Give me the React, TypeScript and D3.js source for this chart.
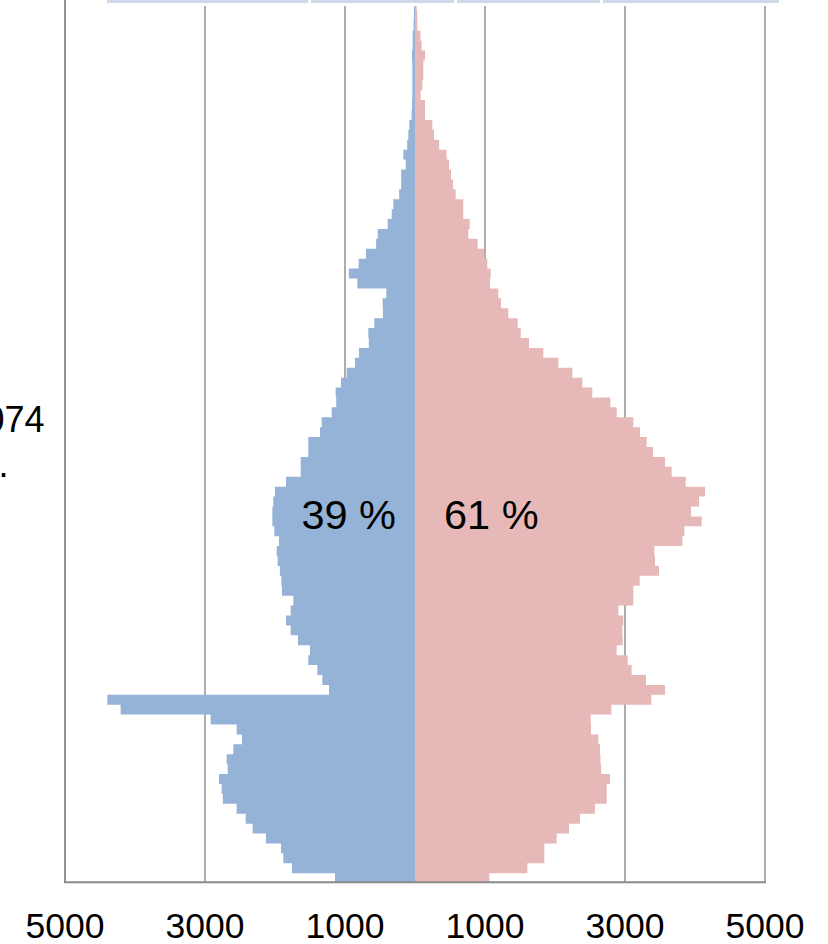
import React from "react";
import * as d3 from "d3";

// Age categories (0 = youngest, bottom of pyramid)
const ages = [
  0, 1, 2, 3, 4, 5, 6, 7, 8, 9, 10, 11, 12, 13, 14, 15, 16, 17, 18, 19, 20, 21, 22, 23, 24, 25, 26, 27, 28, 29,
  30, 31, 32, 33, 34, 35, 36, 37, 38, 39, 40, 41, 42, 43, 44, 45, 46, 47, 48, 49, 50, 51, 52, 53, 54, 55, 56, 57, 58, 59,
  60, 61, 62, 63, 64, 65, 66, 67, 68, 69, 70, 71, 72, 73, 74, 75, 76, 77, 78, 79, 80, 81, 82, 83, 84, 85, 86, 87, 88,
];

// Men (left, blue)
const men = [
  1143, 1757, 1881, 1914, 2129, 2319, 2419, 2548, 2745, 2762,
  2800, 2676, 2690, 2595, 2471, 2548, 2919, 4205, 4395, 1229,
  1324, 1395, 1524, 1500, 1671, 1776, 1843, 1776, 1738, 1900,
  1910, 1930, 1962, 1976, 1943, 2010, 2038, 2038, 2024, 2000,
  1843, 1633, 1633, 1524, 1524, 1357, 1333, 1190, 1125, 1133,
  1057, 976, 857, 800, 660, 667, 581, 458, 462, 410,
  824, 945, 805, 700, 555, 533, 390, 333, 310, 226,
  197, 197, 133, 167, 112, 95, 81, 48, 43, 38,
  38, 38, 38, 43, 33, 33, 20, 15, 15,
];

// Women (right, pink)
const women = [
  1062, 1605, 1848, 1848, 2024, 2200, 2357, 2571, 2738, 2738,
  2786, 2660, 2650, 2643, 2619, 2514, 2510, 2805, 3376, 3571,
  3300, 3095, 3038, 2881, 2967, 2962, 2976, 2905, 3119, 3119,
  3210, 3486, 3429, 3419, 3819, 3848, 4095, 3943, 4057, 4143,
  3867, 3667, 3571, 3400, 3310, 3214, 3119, 2881, 2790, 2533,
  2390, 2248, 2048, 1833, 1629, 1510, 1467, 1333, 1229, 1190,
  1071, 1081, 1033, 990, 895, 762, 781, 690, 690, 581,
  545, 514, 486, 452, 345, 271, 248, 143, 143, 81,
  105, 119, 119, 143, 95, 78, 33, 33, 24,
];

const tickValues = [-5000, -3000, -1000, 1000, 3000, 5000];
const shareLabels = ["39 %", "61 %"];
const sideLabels = ["41 074", "pers."];

const W = 828;
const H = 944;
const FONT = "'Liberation Sans', Arial, Helvetica, sans-serif";
const BLUE = "#95b3d7";
const PINK = "#e6b8b7";
const GRID = "#8a8a8a";

export default function App() {
  const x = d3.scaleLinear().domain([-5000, 5000]).range([65, 765]);
  const y = d3.scaleBand<number>().domain(ages).range([883.1, 1.0]).padding(0);
  const bw = y.bandwidth();

  // one path per side, made of one rectangle per age band (avoids seams)
  const barsPath = (vals: number[], sign: number) => {
    const p = d3.path();
    ages.forEach((a, i) => {
      const x0 = x(0);
      const x1 = x(sign * vals[i]);
      const top = y(a)!;
      p.rect(Math.min(x0, x1), top, Math.abs(x1 - x0), bw);
    });
    return p.toString();
  };

  const legendSegs: [number, number][] = [
    [107, 308],
    [311, 454],
    [457, 600],
    [603, 779],
  ];

  return (
    <svg
      width={W}
      height={H}
      viewBox={`0 0 ${W} ${H}`}
      style={{ position: "absolute", left: 0, top: 0, background: "#fff" }}
    >
      <rect x={0} y={0} width={W} height={H} fill="#fff" />
      {/* gridlines */}
      {tickValues.map((v) => (
        <line
          key={"g" + v}
          x1={x(v)}
          x2={x(v)}
          y1={0}
          y2={882}
          stroke={GRID}
          strokeWidth={v === -5000 ? 1.8 : 1.4}
        />
      ))}
      {/* bars */}
      <path d={barsPath(men, -1)} fill={BLUE} fillRule="nonzero" />
      <path d={barsPath(women, 1)} fill={PINK} fillRule="nonzero" />
      {/* bottom axis line */}
      <line x1={x(-5000) - 1} x2={x(5000) + 1} y1={882.2} y2={882.2} stroke={GRID} strokeWidth={2} />
      {/* legend strip at top (cropped) */}
      <rect x={107} y={0} width={672} height={6} fill="#fff" />
      {legendSegs.map(([a, b]) => (
        <rect key={"l" + a} x={a} y={0} width={b - a} height={3} fill="#d0d9ea" />
      ))}
      {/* tick labels */}
      {tickValues.map((v) => (
        <text
          key={"t" + v}
          x={x(v)}
          y={938}
          textAnchor="middle"
          fontFamily={FONT}
          fontSize={35.5}
          fill="#000"
        >
          {Math.abs(v)}
        </text>
      ))}
      {/* share labels */}
      <text x={396} y={528.5} textAnchor="end" fontFamily={FONT} fontSize={41.5} fill="#000">
        {shareLabels[0]}
      </text>
      <text x={444} y={528.5} textAnchor="start" fontFamily={FONT} fontSize={41.5} fill="#000">
        {shareLabels[1]}
      </text>
      {/* side labels (cropped at left edge) */}
      <text x={44.5} y={431.5} textAnchor="end" fontFamily={FONT} fontSize={36} fill="#000">
        {sideLabels[0]}
      </text>
      <text x={8.5} y={477} textAnchor="end" fontFamily={FONT} fontSize={36} fill="#000">
        {sideLabels[1]}
      </text>
    </svg>
  );
}
